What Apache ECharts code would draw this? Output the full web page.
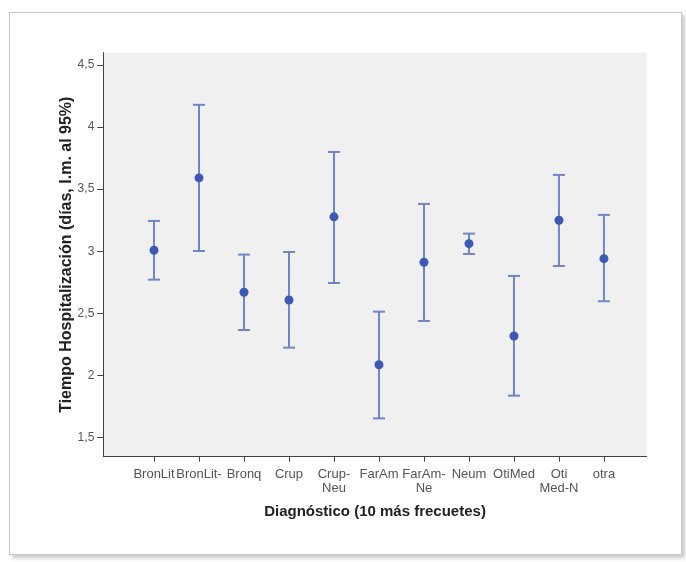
<!DOCTYPE html>
<html>
<head>
<meta charset="utf-8">
<script src="https://cdn.jsdelivr.net/npm/echarts@6/dist/echarts.min.js"></script>
<style>
html,body{margin:0;padding:0;background:#fff;width:686px;height:562px;overflow:hidden;}
#frame{position:absolute;left:9px;top:12px;width:671px;height:541px;border:1px solid #c8c8c8;background:#fff;box-shadow:3px 3px 4px rgba(0,0,0,0.22);}
#chart{position:absolute;left:0;top:0;width:686px;height:562px;}
</style>
</head>
<body>
<div id="frame"></div>
<div id="chart"></div>
<script>
var categories = ['BronLit', 'BronLit-', 'Bronq', 'Crup', 'Crup-\nNeu', 'FarAm', 'FarAm-\nNe', 'Neum', 'OtiMed', 'Oti\nMed-N', 'otra'];
var means = [3.008, 3.591, 2.669, 2.607, 3.277, 2.085, 2.911, 3.061, 2.317, 3.250, 2.940];
var lower = [2.771, 3.002, 2.365, 2.223, 2.744, 1.653, 2.438, 2.978, 1.836, 2.881, 2.597];
var upper = [3.244, 4.180, 2.973, 2.994, 3.800, 2.513, 3.381, 3.142, 2.801, 3.615, 3.293];
var yTicks = [1.5, 2, 2.5, 3, 3.5, 4, 4.5];

var idx = categories.map(function (c, i) { return i; });
var barData = idx.map(function (i) { return [i, lower[i], upper[i]]; });
var meanData = idx.map(function (i) { return [i, means[i]]; });

var chart = echarts.init(document.getElementById('chart'), null, {renderer: 'canvas'});
var font = 'Liberation Sans, Arial, sans-serif';
chart.setOption({
  animation: false,
  grid: {left: 103.3, top: 52.7, width: 543.4, height: 404, show: true, backgroundColor: '#f0f0f0', borderWidth: 0},
  xAxis: {
    type: 'value', min: -1.127, max: 10.95,
    name: 'Diagnóstico (10 más frecuetes)', nameLocation: 'middle', nameGap: 48,
    nameTextStyle: {fontFamily: font, fontSize: 15, fontWeight: 'bold', color: '#222'},
    axisLine: {show: true, onZero: false, lineStyle: {color: '#444', width: 1}},
    axisTick: {show: true, length: 5, customValues: idx, lineStyle: {color: '#444'}},
    axisLabel: {show: true, customValues: idx, margin: 11, fontFamily: font, fontSize: 13, color: '#555', lineHeight: 14,
      formatter: function (v) { return categories[Math.round(v)]; }},
    splitLine: {show: false}
  },
  yAxis: {
    type: 'value', min: 1.344, max: 4.6,
    name: 'Tiempo Hospitalización (días, I.m. al 95%)', nameLocation: 'middle', nameGap: 29,
    nameMoveOverlap: false,
    nameTextStyle: {fontFamily: font, fontSize: 16, fontWeight: 'bold', color: '#222'},
    axisLine: {show: true, onZero: false, lineStyle: {color: '#444', width: 1}},
    axisTick: {show: true, length: 6, customValues: yTicks, lineStyle: {color: '#444'}},
    axisLabel: {show: true, customValues: yTicks, margin: 9, fontFamily: font, fontSize: 12, color: '#555',
      formatter: function (v) { return String(v).replace('.', ','); }},
    splitLine: {show: false}
  },
  series: [
    {
      type: 'custom',
      data: barData,
      renderItem: function (params, api) {
        var x = api.value(0);
        var lo = api.coord([x, api.value(1)]);
        var hi = api.coord([x, api.value(2)]);
        var hw = 6;
        var style = {stroke: '#6f86cc', lineWidth: 2};
        return {
          type: 'group',
          children: [
            {type: 'line', shape: {x1: hi[0], y1: hi[1], x2: lo[0], y2: lo[1]}, style: style},
            {type: 'line', shape: {x1: hi[0] - hw, y1: hi[1], x2: hi[0] + hw, y2: hi[1]}, style: style},
            {type: 'line', shape: {x1: lo[0] - hw, y1: lo[1], x2: lo[0] + hw, y2: lo[1]}, style: style}
          ]
        };
      },
      z: 2
    },
    {
      type: 'scatter',
      data: meanData,
      symbol: 'circle',
      symbolSize: 9,
      itemStyle: {color: '#3d58b5', opacity: 1},
      z: 3
    }
  ]
});
</script>
</body>
</html>
